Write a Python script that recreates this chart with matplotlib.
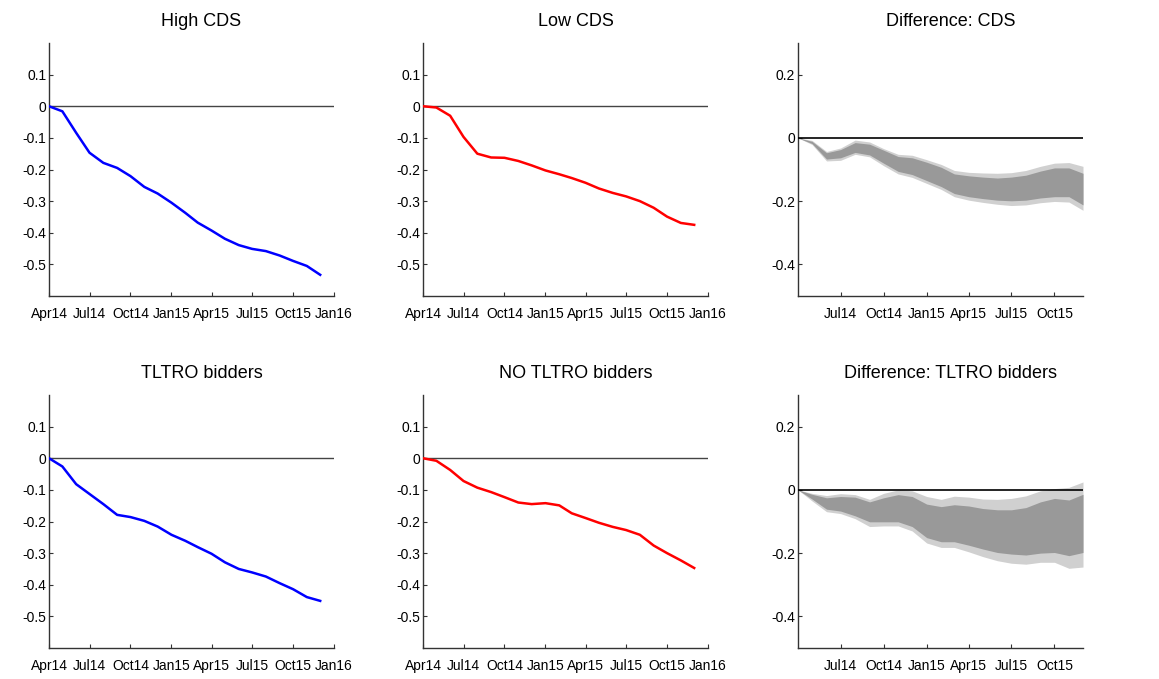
import matplotlib
matplotlib.use('Agg')
import numpy as np
import pandas as pd
import matplotlib.pyplot as plt
import matplotlib.dates as mdates

plt.rcParams['font.family'] = ['Liberation Sans', 'DejaVu Sans']

# monthly observations Apr14 .. Dec15
months = pd.date_range('2014-04-01', periods=21, freq='MS')

high_cds = [0, -0.016, -0.084, -0.147, -0.179, -0.195, -0.221, -0.255, -0.276, -0.305, -0.337,
	-0.368, -0.393, -0.419, -0.439, -0.451, -0.458, -0.472, -0.489, -0.505, -0.533]
low_cds = [0, -0.004, -0.030, -0.097, -0.150, -0.162, -0.163, -0.173, -0.187, -0.203, -0.215,
	-0.227, -0.242, -0.260, -0.274, -0.285, -0.300, -0.321, -0.349, -0.369, -0.375]
tltro = [0, -0.026, -0.082, -0.113, -0.145, -0.179, -0.186, -0.198, -0.216, -0.242, -0.261,
	-0.281, -0.302, -0.329, -0.350, -0.361, -0.374, -0.395, -0.414, -0.439, -0.451]
no_tltro = [0, -0.008, -0.037, -0.072, -0.093, -0.107, -0.123, -0.140, -0.145, -0.142, -0.149,
	-0.174, -0.189, -0.204, -0.217, -0.227, -0.242, -0.276, -0.300, -0.323, -0.347]

# difference bands: outer (light) and inner (dark) bounds
cds_out_hi = [0, -0.008, -0.043, -0.032, -0.007, -0.013, -0.034, -0.052, -0.055, -0.069, -0.084,
	-0.103, -0.109, -0.111, -0.112, -0.110, -0.103, -0.090, -0.080, -0.078, -0.090]
cds_in_hi = [0, -0.011, -0.047, -0.037, -0.015, -0.020, -0.039, -0.059, -0.063, -0.077, -0.093,
	-0.114, -0.120, -0.124, -0.127, -0.124, -0.118, -0.105, -0.095, -0.095, -0.112]
cds_in_lo = [0, -0.018, -0.067, -0.063, -0.046, -0.054, -0.080, -0.106, -0.116, -0.135, -0.154,
	-0.176, -0.186, -0.192, -0.197, -0.199, -0.197, -0.190, -0.186, -0.186, -0.212]
cds_out_lo = [0, -0.021, -0.073, -0.071, -0.052, -0.060, -0.088, -0.114, -0.125, -0.144, -0.163,
	-0.186, -0.197, -0.204, -0.210, -0.214, -0.212, -0.205, -0.201, -0.203, -0.229]

tl_out_hi = [0, -0.011, -0.018, -0.012, -0.015, -0.030, -0.011, 0.000, -0.003, -0.021, -0.030,
	-0.020, -0.023, -0.029, -0.030, -0.027, -0.019, -0.003, 0.004, 0.008, 0.025]
tl_in_hi = [0, -0.014, -0.025, -0.021, -0.023, -0.038, -0.025, -0.015, -0.021, -0.045, -0.053,
	-0.047, -0.051, -0.059, -0.063, -0.063, -0.056, -0.038, -0.027, -0.032, -0.014]
tl_in_lo = [0, -0.029, -0.061, -0.067, -0.082, -0.101, -0.101, -0.101, -0.116, -0.151, -0.164,
	-0.164, -0.175, -0.187, -0.198, -0.203, -0.206, -0.200, -0.198, -0.208, -0.198]
tl_out_lo = [0, -0.035, -0.069, -0.075, -0.091, -0.116, -0.114, -0.114, -0.130, -0.168, -0.182,
	-0.182, -0.196, -0.211, -0.224, -0.232, -0.235, -0.229, -0.229, -0.248, -0.244]

line_ticks = ['2014-04-01', '2014-07-01', '2014-10-01', '2015-01-01', '2015-04-01',
	'2015-07-01', '2015-10-01', '2016-01-01']
line_ticklabels = ['Apr14', 'Jul14', 'Oct14', 'Jan15', 'Apr15', 'Jul15', 'Oct15', 'Jan16']
diff_ticks = line_ticks[1:7]
diff_ticklabels = line_ticklabels[1:7]

W, H = 1159, 679
fig = plt.figure(figsize=(W / 100., H / 100.), dpi=100)

def make_ax(left, top):
	# pixel box -> figure fraction
	ax = fig.add_axes([left / W, (H - top - 253) / H, 285. / W, 253. / H])
	for s in ['top', 'right']:
		ax.spines[s].set_visible(False)
	for s in ['left', 'bottom']:
		ax.spines[s].set_color('#333333')
		ax.spines[s].set_linewidth(1.0)
	ax.tick_params(direction='in', length=3, width=0.8, color='#333333', labelsize=10)
	ax.tick_params(axis='x', pad=8)
	ax.tick_params(axis='y', pad=2)
	return ax

def put_title(ax, title):
	# title sits a bit right of the axes centre in the original
	ax.set_title(title, fontsize=13, pad=12, x=0.535)

def line_panel(ax, y, color, title):
	ax.plot(months, y, color=color, lw=1.8, zorder=3)
	ax.axhline(0, color='#444444', lw=1.0, zorder=2)
	ax.set_xlim(pd.Timestamp(line_ticks[0]), pd.Timestamp(line_ticks[-1]))
	ax.set_ylim(-0.6, 0.2)
	ax.set_yticks([-0.5, -0.4, -0.3, -0.2, -0.1, 0, 0.1])
	ax.set_yticklabels(['-0.5', '-0.4', '-0.3', '-0.2', '-0.1', '0', '0.1'])
	ax.set_xticks([pd.Timestamp(t) for t in line_ticks])
	ax.set_xticklabels(line_ticklabels)
	put_title(ax, title)

def diff_panel(ax, out_hi, in_hi, in_lo, out_lo, title):
	ax.fill_between(months, out_lo, out_hi, color='#d0d0d0', lw=0, zorder=1)
	ax.fill_between(months, in_lo, in_hi, color='#999999', lw=0, zorder=2)
	ax.axhline(0, color='black', lw=1.2, zorder=3)
	ax.set_xlim(months[0], months[-1])
	ax.set_ylim(-0.5, 0.3)
	ax.set_yticks([-0.4, -0.2, 0, 0.2])
	ax.set_yticklabels(['-0.4', '-0.2', '0', '0.2'])
	ax.set_xticks([pd.Timestamp(t) for t in diff_ticks])
	ax.set_xticklabels(diff_ticklabels)
	put_title(ax, title)

line_panel(make_ax(49, 43), high_cds, 'blue', 'High CDS')
line_panel(make_ax(423, 43), low_cds, 'red', 'Low CDS')
diff_panel(make_ax(798, 43), cds_out_hi, cds_in_hi, cds_in_lo, cds_out_lo, 'Difference: CDS')
line_panel(make_ax(49, 395), tltro, 'blue', 'TLTRO bidders')
line_panel(make_ax(423, 395), no_tltro, 'red', 'NO TLTRO bidders')
diff_panel(make_ax(798, 395), tl_out_hi, tl_in_hi, tl_in_lo, tl_out_lo, 'Difference: TLTRO bidders')

fig.savefig('out.png', dpi=100)
